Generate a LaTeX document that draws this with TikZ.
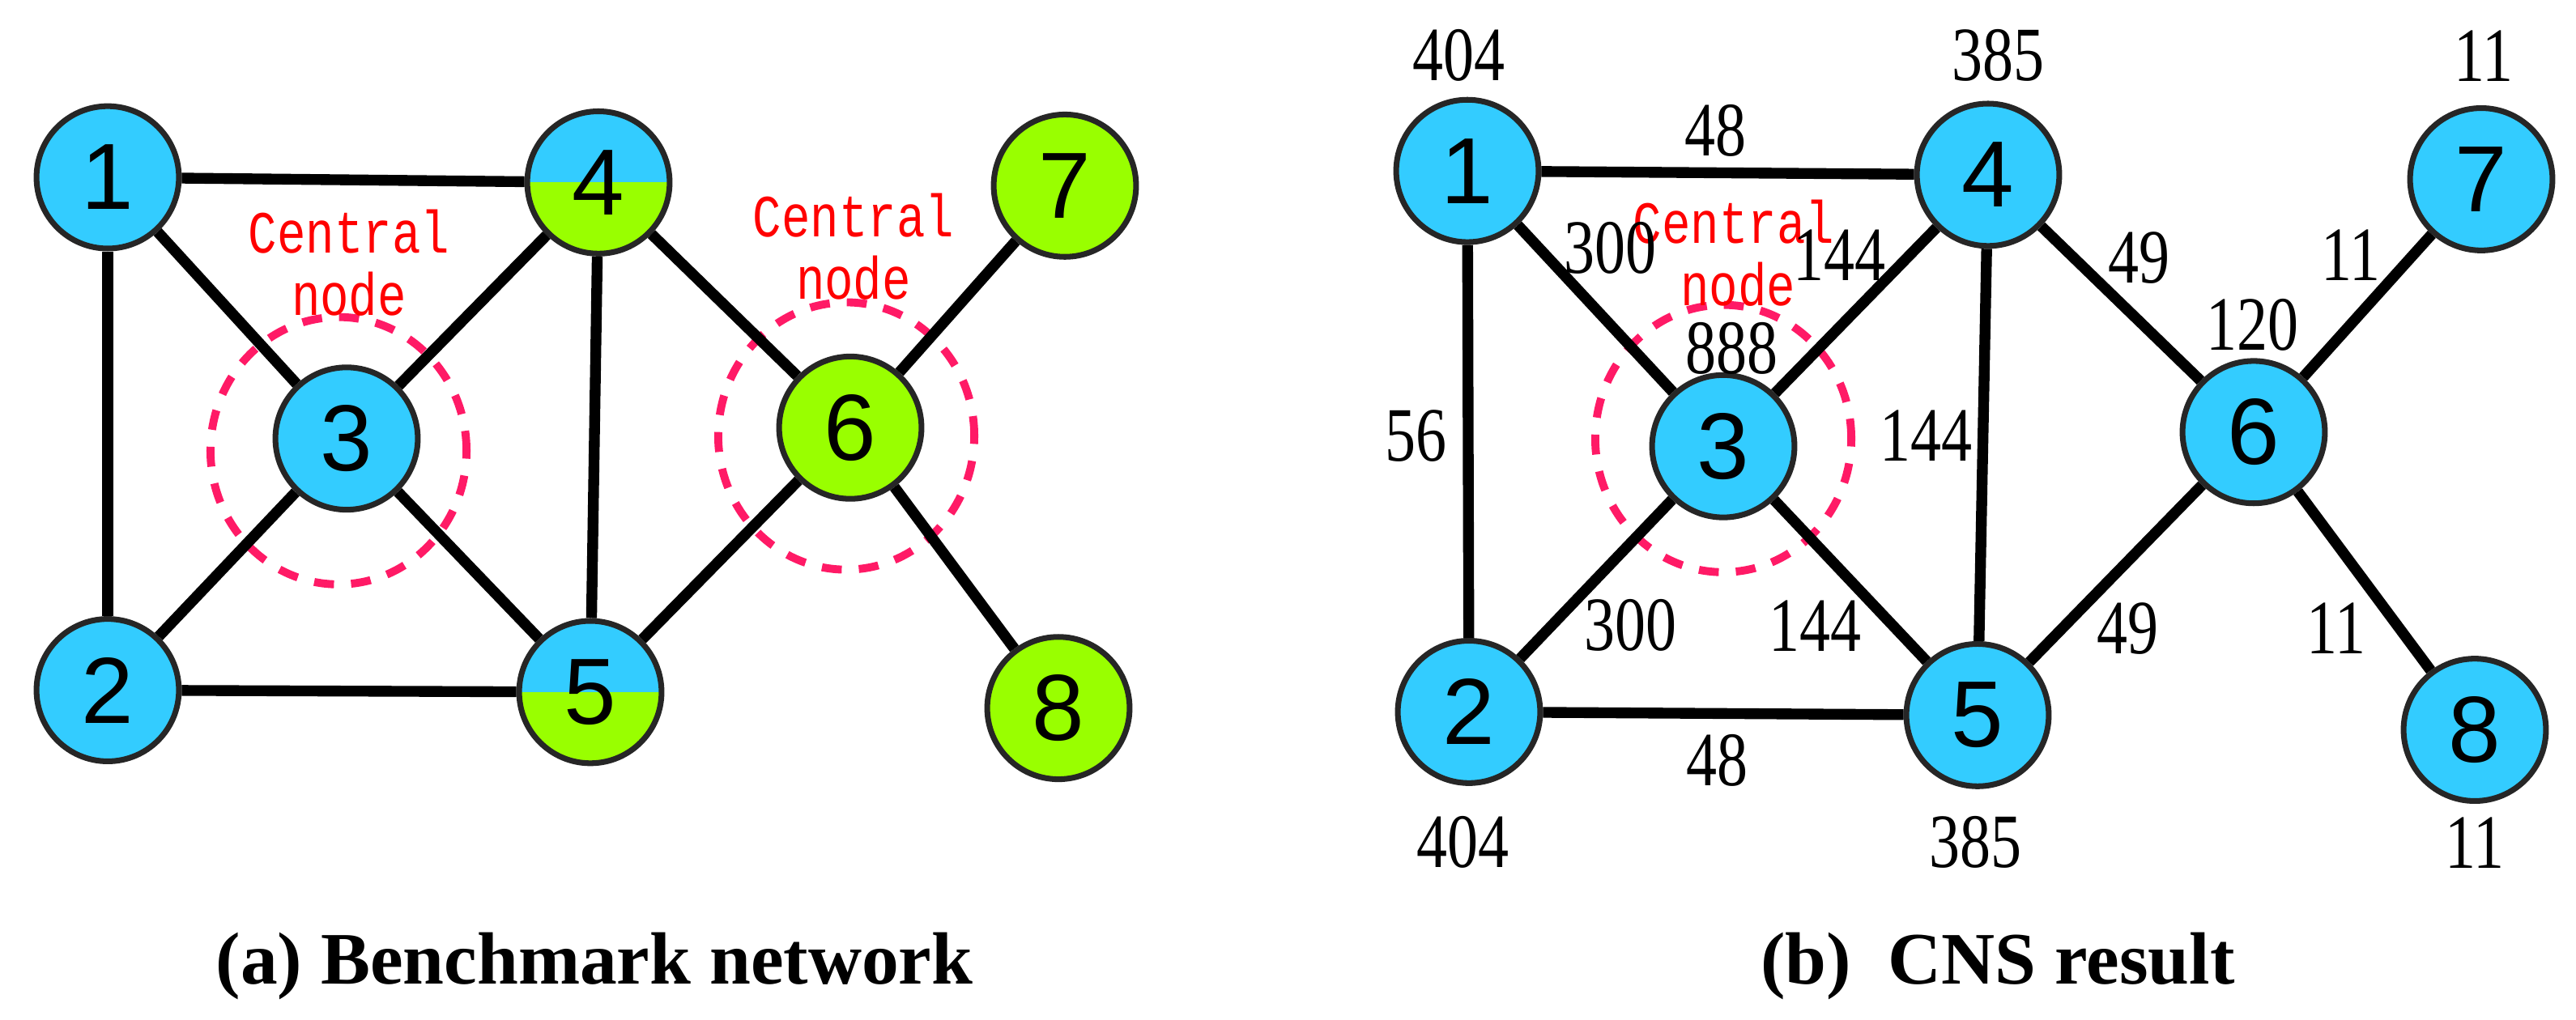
\documentclass[tikz,border=0pt]{standalone}
\usepackage{fontspec}
\setmainfont{Liberation Serif}
\newfontfamily\nodefont{Liberation Sans}
\newfontfamily\numfont{Liberation Serif}[FakeStretch=0.8]
\newfontfamily\redfont{Liberation Mono}[FakeStretch=0.8]
\definecolor{nodeblue}{HTML}{33CCFF}
\definecolor{nodegreen}{HTML}{99FF00}
\definecolor{ringred}{HTML}{FF1A66}
\usetikzlibrary{shapes.geometric}
\tikzset{
  vtx/.style={ellipse,draw=black!85,line width=2pt,fill=nodeblue,minimum width=50pt,minimum height=50pt,inner sep=0pt,font=\nodefont\fontsize{33}{33}\selectfont},
  grn/.style={vtx,fill=nodegreen},
  half/.style={vtx,path picture={\fill[nodegreen] (path picture bounding box.west) rectangle (path picture bounding box.south east);}},
  edge/.style={line width=3.8pt,black},
  ring/.style={ringred,line width=2.8pt,dash pattern=on 7pt off 6pt},
  ctrlabel/.style={text=red,font=\redfont\fontsize{21}{21}\selectfont},
  num/.style={font=\numfont\fontsize{27}{27}\selectfont},
  caption/.style={font=\bfseries\fontsize{26}{26}\selectfont}
}
\begin{document}
\begin{tikzpicture}[x=0.01cm,y=-0.0079cm]
\useasboundingbox (0,0) rectangle (3181,1592);
% (a) benchmark network
\draw[ring] (418,704) ellipse (1.58cm and 1.65cm);
\draw[ring] (1045,681) ellipse (1.58cm and 1.65cm);
\node[vtx] (a1) at (133,277) {1};
\node[half] (a4) at (739,285) {4};
\node[grn] (a7) at (1315,290) {7};
\node[vtx] (a3) at (428,685) {3};
\node[grn] (a6) at (1050,668) {6};
\node[vtx] (a2) at (133,1078) {2};
\node[half] (a5) at (729,1081) {5};
\node[grn] (a8) at (1307,1106) {8};
\foreach \u/\v in {1/4,1/3,1/2,4/3,4/5,4/6,3/2,3/5,2/5,5/6,6/7,6/8}
  \draw[edge] (a\u) -- (a\v);
\node[ctrlabel] (ac1) at (431,362) {Central};
\node[ctrlabel] (ac2) at (431,459) {node};
\node[ctrlabel] (ac3) at (1054,337) {Central};
\node[ctrlabel] (ac4) at (1054,434) {node};
\node[caption] (acap) at (734,1509) {(a) Benchmark network};
% (b) CNS result
\draw[ring] (2128,685) ellipse (1.58cm and 1.65cm);
\node[vtx] (b1) at (1812,267) {1};
\node[vtx] (b4) at (2455,273) {4};
\node[vtx] (b7) at (3064,280) {7};
\node[vtx] (b3) at (2128,697) {3};
\node[vtx] (b6) at (2783,675) {6};
\node[vtx] (b2) at (1814,1112) {2};
\node[vtx] (b5) at (2442,1117) {5};
\node[vtx] (b8) at (3056,1140) {8};
\foreach \u/\v in {1/4,1/3,1/2,4/3,4/5,4/6,3/2,3/5,2/5,5/6,6/7,6/8}
  \draw[edge] (b\u) -- (b\v);
\node[ctrlabel] (bc1) at (2141,347) {Central};
\node[ctrlabel] (bc2) at (2146,444) {node};
\foreach \x/\y/\t [count=\i] in {1801/87/404,2467/87/385,3067/87/11,2118/204/48,1988/388/300,
  2271/398/144,2641/403/49,2903/398/11,2781/507/120,2138/544/888,1748/681/56,2378/681/144,
  2013/977/300,2241/977/144,2627/982/49,2885/982/11,2120/1188/48,1806/1316/404,2439/1316/385,3056/1316/11}
  \node[num] (bn\i) at (\x,\y) {\t};
\node[caption] (bcap) at (2467,1509) {(b)\ \ CNS result};
\end{tikzpicture}
\end{document}
